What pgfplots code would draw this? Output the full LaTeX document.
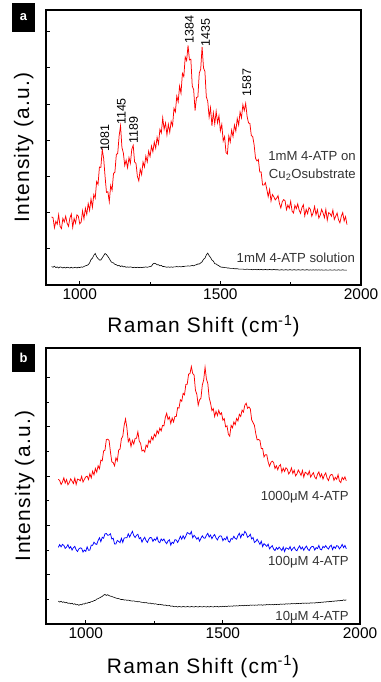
\documentclass[border=0pt]{standalone}
\usepackage{pgfplots}
\pgfplotsset{compat=1.18}
\usepackage{pgfplotstable}
\usepackage{fontspec}
\setmainfont{Liberation Sans}
\newfontfamily\labfont[LetterSpace=6]{Liberation Sans}

\pgfplotstableread{
x ra ka rb bb kb
900 1.88 0.51 5.87 3.11 0.93
905 1.86 0.49 5.82 3.22 0.89
910 1.58 0.52 5.66 3.13 0.92
915 1.76 0.48 5.76 3.23 0.88
920 1.68 0.50 5.93 3.19 0.90
925 1.94 0.47 5.72 3.07 0.86
930 1.62 0.50 5.86 3.12 0.88
935 1.56 0.49 5.65 3.22 0.84
940 1.84 0.47 5.74 3.07 0.85
945 1.74 0.49 5.89 3.14 0.82
950 1.90 0.47 5.80 3.00 0.84
955 1.71 0.49 5.70 3.10 0.80
960 1.62 0.48 5.92 3.15 0.82
965 1.85 0.47 5.66 3.01 0.78
970 1.96 0.49 5.88 2.94 0.79
975 1.59 0.47 5.86 3.05 0.76
980 1.84 0.48 5.81 3.09 0.79
985 1.71 0.49 5.99 3.07 0.78
990 1.94 0.47 5.76 2.92 0.82
995 1.90 0.49 5.87 3.00 0.81
1000 1.69 0.48 5.97 2.95 0.85
1005 1.74 0.50 6.00 3.13 0.84
1010 2.05 0.49 5.86 2.99 0.88
1015 1.83 0.51 6.10 3.00 0.87
1020 2.12 0.53 5.93 3.20 0.91
1025 1.95 0.54 6.20 3.19 0.91
1030 2.25 0.56 6.05 3.32 0.95
1035 2.06 0.61 6.31 3.25 0.96
1040 2.38 0.70 6.16 3.23 1.01
1045 2.15 0.74 6.42 3.39 1.03
1050 2.50 0.82 6.30 3.50 1.06
1055 2.40 0.87 6.65 3.34 1.09
1060 2.86 0.78 6.62 3.52 1.12
1065 2.78 0.73 7.02 3.48 1.17
1070 3.26 0.69 7.05 3.66 1.20
1075 3.25 0.69 7.48 3.67 1.16
1080 3.74 0.75 7.50 3.60 1.19
1085 3.50 0.81 7.45 3.61 1.15
1090 3.00 0.87 6.98 3.66 1.13
1095 2.56 0.84 6.58 3.45 1.12
1100 2.58 0.79 6.55 3.48 1.09
1105 2.30 0.73 6.42 3.25 1.08
1110 2.75 0.66 6.74 3.25 1.05
1115 2.62 0.62 6.62 3.39 1.04
1120 3.08 0.61 7.06 3.35 1.03
1125 3.12 0.57 7.10 3.30 1.01
1130 3.60 0.56 7.52 3.48 0.99
1135 3.64 0.53 7.62 3.31 1.00
1140 4.12 0.54 8.06 3.49 0.97
1145 4.40 0.51 8.32 3.50 0.98
1150 3.80 0.53 7.96 3.50 0.96
1155 3.65 0.50 7.40 3.66 0.97
1160 3.30 0.51 7.52 3.53 0.95
1165 3.45 0.49 7.20 3.65 0.94
1170 3.24 0.50 7.45 3.76 0.93
1175 3.52 0.49 7.30 3.59 0.94
1180 3.36 0.50 7.53 3.51 0.92
1185 3.75 0.49 7.54 3.60 0.92
1190 3.86 0.48 7.80 3.64 0.90
1195 3.40 0.49 7.42 3.46 0.91
1200 3.36 0.48 7.33 3.51 0.89
1205 3.00 0.49 7.02 3.32 0.88
1210 2.88 0.48 7.06 3.44 0.88
1215 3.20 0.49 6.98 3.52 0.86
1220 3.05 0.48 7.26 3.38 0.87
1225 3.40 0.49 7.18 3.31 0.85
1230 3.26 0.49 7.45 3.45 0.84
1235 3.56 0.50 7.35 3.51 0.85
1240 3.40 0.49 7.59 3.50 0.82
1245 3.70 0.50 7.47 3.35 0.83
1250 3.55 0.51 7.70 3.45 0.81
1255 3.84 0.52 7.60 3.40 0.82
1260 3.68 0.58 7.85 3.53 0.80
1265 3.95 0.60 7.73 3.34 0.79
1270 3.78 0.59 7.95 3.30 0.80
1275 4.08 0.56 7.84 3.45 0.78
1280 3.90 0.56 8.06 3.38 0.78
1285 4.30 0.53 8.04 3.45 0.76
1290 4.20 0.54 8.38 3.33 0.77
1295 4.62 0.51 8.55 3.26 0.75
1300 4.30 0.51 8.30 3.37 0.74
1305 4.48 0.50 8.40 3.42 0.75
1310 4.15 0.49 8.14 3.20 0.72
1315 4.44 0.50 8.36 3.32 0.73
1320 4.22 0.49 8.20 3.27 0.71
1325 4.52 0.50 8.42 3.42 0.70
1330 4.40 0.49 8.42 3.41 0.71
1335 4.88 0.50 8.78 3.31 0.69
1340 4.78 0.50 8.76 3.42 0.71
1345 5.22 0.51 9.10 3.56 0.70
1350 5.06 0.50 9.04 3.44 0.69
1355 5.50 0.51 9.36 3.58 0.71
1360 5.30 0.50 9.30 3.46 0.70
1365 5.85 0.51 9.72 3.57 0.69
1370 5.76 0.51 9.73 3.71 0.71
1375 6.30 0.52 10.14 3.68 0.70
1380 6.20 0.52 10.16 3.64 0.69
1385 6.62 0.53 10.45 3.75 0.71
1390 6.22 0.52 10.16 3.50 0.70
1395 6.24 0.53 10.10 3.60 0.69
1400 5.50 0.54 9.48 3.53 0.71
1405 5.40 0.53 9.32 3.44 0.70
1410 4.82 0.55 8.88 3.51 0.69
1415 5.18 0.56 9.10 3.36 0.71
1420 5.20 0.58 9.16 3.48 0.70
1425 5.86 0.58 9.70 3.58 0.69
1430 5.96 0.61 9.90 3.49 0.71
1435 6.58 0.64 10.42 3.48 0.70
1440 6.00 0.71 9.94 3.60 0.69
1445 5.90 0.74 9.76 3.68 0.71
1450 5.20 0.83 9.18 3.53 0.69
1455 5.08 0.88 8.96 3.61 0.71
1460 4.64 0.81 8.66 3.46 0.70
1465 4.90 0.76 8.74 3.57 0.69
1470 4.40 0.69 8.42 3.63 0.71
1475 4.76 0.66 8.63 3.49 0.70
1480 4.45 0.59 8.46 3.41 0.71
1485 4.80 0.58 8.67 3.53 0.69
1490 4.48 0.55 8.50 3.58 0.71
1495 4.68 0.53 8.57 3.56 0.70
1500 4.26 0.50 8.27 3.38 0.72
1505 4.44 0.49 8.33 3.47 0.71
1510 3.98 0.49 8.00 3.42 0.72
1515 4.10 0.48 8.04 3.55 0.71
1520 3.66 0.48 7.70 3.36 0.73
1525 3.62 0.47 7.62 3.32 0.72
1530 4.12 0.47 8.06 3.47 0.73
1535 3.95 0.46 7.96 3.44 0.72
1540 4.28 0.46 8.20 3.56 0.74
1545 4.10 0.46 8.09 3.47 0.73
1550 4.42 0.45 8.34 3.44 0.74
1555 4.25 0.45 8.24 3.59 0.73
1560 4.60 0.45 8.51 3.68 0.75
1565 4.42 0.44 8.42 3.50 0.74
1570 4.78 0.44 8.68 3.65 0.75
1575 4.62 0.44 8.60 3.60 0.74
1580 4.98 0.44 8.88 3.76 0.76
1585 4.82 0.43 8.96 3.68 0.75
1590 5.02 0.43 8.75 3.52 0.76
1595 4.66 0.44 8.81 3.56 0.75
1600 4.48 0.43 8.73 3.64 0.77
1605 4.46 0.43 8.28 3.45 0.76
1610 4.13 0.43 8.17 3.51 0.77
1615 4.10 0.42 8.06 3.31 0.76
1620 3.87 0.43 7.72 3.35 0.77
1625 3.50 0.43 7.47 3.44 0.76
1630 3.43 0.42 7.49 3.34 0.78
1635 3.47 0.43 7.45 3.23 0.77
1640 3.12 0.42 7.12 3.36 0.78
1645 3.12 0.43 7.12 3.14 0.76
1650 2.76 0.42 6.78 3.26 0.78
1655 2.76 0.42 6.87 3.21 0.77
1660 2.83 0.43 6.87 3.15 0.79
1665 2.65 0.42 6.58 3.24 0.78
1670 2.44 0.42 6.40 3.05 0.79
1675 2.64 0.43 6.55 3.12 0.78
1680 2.32 0.42 6.61 3.18 0.79
1685 2.50 0.42 6.55 3.04 0.78
1690 2.44 0.43 6.31 2.98 0.80
1695 2.35 0.42 6.42 3.10 0.79
1700 2.40 0.42 6.26 3.03 0.80
1705 2.47 0.42 6.41 3.12 0.79
1710 2.25 0.41 6.47 3.05 0.81
1715 2.13 0.42 6.16 2.98 0.80
1720 2.30 0.42 6.32 3.12 0.81
1725 2.36 0.41 6.19 2.94 0.80
1730 2.33 0.42 6.34 3.09 0.82
1735 2.08 0.42 6.28 3.07 0.81
1740 2.21 0.41 6.09 3.03 0.82
1745 2.12 0.42 6.17 3.14 0.81
1750 2.31 0.42 6.33 2.98 0.83
1755 2.04 0.41 6.11 3.06 0.82
1760 1.99 0.42 6.24 3.12 0.83
1765 2.20 0.42 6.01 3.01 0.82
1770 2.11 0.41 6.09 2.97 0.84
1775 2.24 0.42 6.25 3.09 0.83
1780 2.07 0.42 6.15 3.17 0.84
1785 1.98 0.41 6.03 3.04 0.83
1790 2.14 0.42 6.23 3.12 0.85
1795 2.22 0.42 5.96 2.99 0.84
1800 1.91 0.41 6.16 3.10 0.85
1805 2.09 0.42 6.12 3.16 0.84
1810 1.97 0.42 6.05 3.03 0.85
1815 2.14 0.41 6.21 2.98 0.84
1820 2.09 0.42 5.96 3.10 0.86
1825 1.90 0.41 6.06 3.15 0.85
1830 2.00 0.42 6.14 3.14 0.86
1835 2.17 0.41 5.96 3.00 0.85
1840 1.94 0.42 5.89 3.10 0.87
1845 2.08 0.41 6.08 3.06 0.86
1850 1.85 0.42 6.17 3.19 0.88
1855 1.93 0.41 5.96 3.03 0.87
1860 2.09 0.42 6.09 3.01 0.89
1865 1.99 0.41 5.88 3.15 0.88
1870 1.86 0.41 6.04 3.10 0.90
1875 2.09 0.42 6.13 3.18 0.89
1880 1.79 0.41 5.92 3.09 0.91
1885 2.00 0.41 5.82 3.04 0.90
1890 1.97 0.42 6.00 3.15 0.92
1895 1.90 0.41 6.07 3.20 0.91
1900 2.07 0.41 6.05 3.02 0.93
1905 1.81 0.42 5.83 3.14 0.92
1910 1.90 0.41 5.95 3.07 0.94
1915 1.99 0.41 5.87 3.18 0.93
1920 1.80 0.42 6.06 3.16 0.95
1925 1.72 0.41 5.80 3.05 0.94
1930 1.90 0.41 5.74 3.12 0.96
1935 2.00 0.42 5.95 3.23 0.95
1940 1.77 0.41 5.86 3.10 0.98
1945 1.89 0.41 5.97 3.19 0.96
1950 1.67 0.41 5.81 3.05 0.98
}\spectra

\pgfplotsset{
  ramanaxis/.style={
    scale only axis,
    axis line style={line width=1.4bp},
    tick style={black, line width=0.9bp},
    major tick length=4bp, minor tick length=2.5bp,
    tick align=inside, xtick pos=bottom, ytick pos=left,
    xtick={1000,1500,2000}, minor xtick={1250,1750},
    yticklabels={},
    /pgf/number format/assume math mode=true,
    /pgf/number format/1000 sep={},
    xticklabel style={font=\fontsize{15.5}{17}\selectfont},
    xlabel={Raman Shift (cm\textsuperscript{-1})},
    ylabel={Intensity (a.u.)},
    xlabel style={font=\labfont\fontsize{21}{24}\selectfont, anchor=base},
    ylabel style={font=\labfont\fontsize{21}{24}\selectfont, anchor=base},
    clip=true,
  },
}
\tikzset{
  notelab/.style={font=\fontsize{13.2}{15}\selectfont, text=black!80, inner sep=0pt},
  peaklab/.style={font=\fontsize{12.5}{14}\selectfont, rotate=90, anchor=west, inner sep=0pt},
}

\begin{document}
\begin{tikzpicture}[x=1bp,y=1bp]
\path[use as bounding box] (0,0) rectangle (380,682);

% panel a
\begin{axis}[ramanaxis,
  at={(46bp,397bp)}, anchor=south west,
  width=315bp, height=275bp,
  xmin=880, xmax=2000, ymin=0, ymax=7.6,
  ytick={1,2,3,4,5,6,7},
  xlabel style={at={([yshift=-48bp]axis description cs:0.5,0)}},
  ylabel style={at={([xshift=-17bp]axis description cs:0,0.5)}},
]
\addplot[red, line width=0.75bp] table[x=x, y=ra]{\spectra};
\addplot[black, line width=0.6bp] table[x=x, y=ka]{\spectra};
\node[peaklab] at (axis cs:1089,3.67) {1081};
\node[peaklab] at (axis cs:1148,4.42) {1145};
\node[peaklab] at (axis cs:1191,3.91) {1189};
\node[peaklab] at (axis cs:1390,6.68) {1384};
\node[peaklab] at (axis cs:1447,6.58) {1435};
\node[peaklab] at (axis cs:1594,5.20) {1587};
\node[notelab, anchor=base east] at (axis cs:1982,3.43) {1mM 4-ATP on};
\node[notelab, anchor=base east] at (axis cs:1982,2.95) {Cu\textsubscript{2}Osubstrate};
\node[notelab, anchor=base east] at (axis cs:1979,0.62) {1mM 4-ATP solution};
\end{axis}

% panel b
\begin{axis}[ramanaxis,
  at={(46bp,58bp)}, anchor=south west,
  width=314bp, height=276bp,
  xmin=855, xmax=2000, ymin=0, ymax=11.2,
  ytick={2,4,6,8,10}, minor ytick={1,3,5,7,9},
  xlabel style={at={([yshift=-49bp]axis description cs:0.5,0)}},
  ylabel style={at={([xshift=-16bp]axis description cs:0,0.5)}},
]
\addplot[red, line width=0.75bp] table[x=x, y=rb]{\spectra};
\addplot[blue, line width=0.75bp] table[x=x, y=bb]{\spectra};
\addplot[black, line width=0.6bp] table[x=x, y=kb]{\spectra};
\node[notelab, anchor=base east] at (axis cs:1959,5.01) {1000μM 4-ATP};
\node[notelab, anchor=base east] at (axis cs:1959,2.36) {100μM 4-ATP};
\node[notelab, anchor=base east] at (axis cs:1959,0.13) {10μM 4-ATP};
\end{axis}

\node[fill=black, text=white, font=\bfseries\fontsize{13}{13}\selectfont, minimum width=23bp, minimum height=29bp, inner sep=0pt] at (23.5,664.5) {a};
\node[fill=black, text=white, font=\bfseries\fontsize{13}{13}\selectfont, minimum width=23bp, minimum height=28bp, inner sep=0pt] at (23.5,324) {b};
\end{tikzpicture}
\end{document}
